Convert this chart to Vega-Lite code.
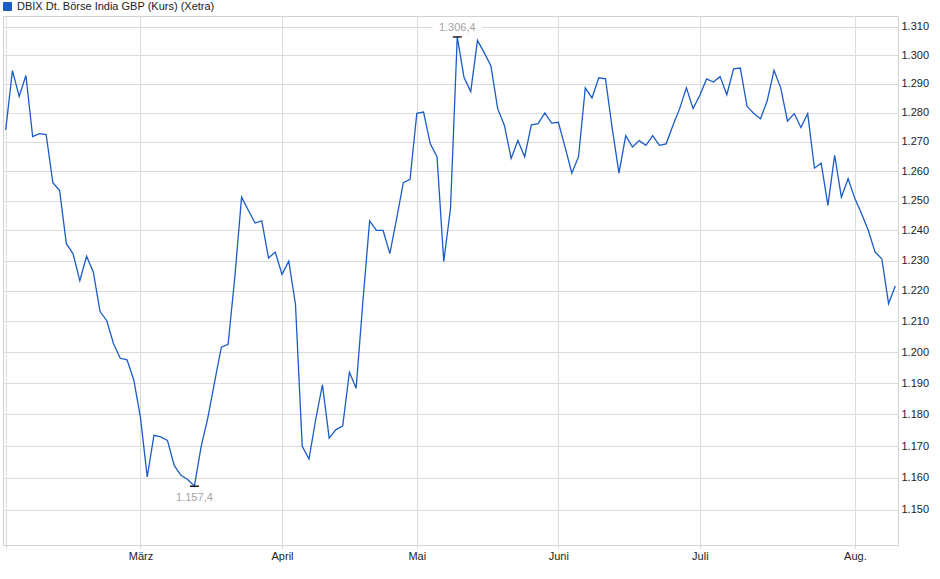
{
  "$schema": "https://vega.github.io/schema/vega-lite/v6.json",
  "autosize": {"type": "none"},
  "padding": {"left": 3, "top": 16, "right": 42, "bottom": 34},
  "width": 895,
  "height": 529,
  "background": "white",
  "config": {
    "font": "Liberation Sans",
    "view": {"stroke": "#d2d2d2", "strokeWidth": 1},
    "locale": {
      "number": {"decimal": ",", "thousands": ".", "grouping": [3], "currency": ["", " €"]}
    }
  },
  "data": {
    "values": [
      {"d": "2025-02-03", "v": 1274.1}, {"d": "2025-02-04", "v": 1294.6}, {"d": "2025-02-05", "v": 1285.6},
      {"d": "2025-02-06", "v": 1292.9}, {"d": "2025-02-07", "v": 1271.8}, {"d": "2025-02-10", "v": 1272.8},
      {"d": "2025-02-11", "v": 1272.5}, {"d": "2025-02-12", "v": 1256.1}, {"d": "2025-02-13", "v": 1253.4},
      {"d": "2025-02-14", "v": 1235.6}, {"d": "2025-02-17", "v": 1232.2}, {"d": "2025-02-18", "v": 1223.3},
      {"d": "2025-02-19", "v": 1231.4}, {"d": "2025-02-20", "v": 1226.2}, {"d": "2025-02-21", "v": 1213.2},
      {"d": "2025-02-24", "v": 1210.2}, {"d": "2025-02-25", "v": 1202.7}, {"d": "2025-02-26", "v": 1198.0},
      {"d": "2025-02-27", "v": 1197.5}, {"d": "2025-02-28", "v": 1191.1}, {"d": "2025-03-03", "v": 1179.0},
      {"d": "2025-03-04", "v": 1160.3}, {"d": "2025-03-05", "v": 1173.4}, {"d": "2025-03-06", "v": 1172.9},
      {"d": "2025-03-07", "v": 1171.8}, {"d": "2025-03-10", "v": 1163.9}, {"d": "2025-03-11", "v": 1160.8},
      {"d": "2025-03-12", "v": 1159.5}, {"d": "2025-03-13", "v": 1157.4}, {"d": "2025-03-14", "v": 1169.8},
      {"d": "2025-03-17", "v": 1179.0}, {"d": "2025-03-18", "v": 1190.4}, {"d": "2025-03-19", "v": 1201.6},
      {"d": "2025-03-20", "v": 1202.5}, {"d": "2025-03-21", "v": 1224.6}, {"d": "2025-03-24", "v": 1251.2},
      {"d": "2025-03-25", "v": 1246.8}, {"d": "2025-03-26", "v": 1242.5}, {"d": "2025-03-27", "v": 1243.2},
      {"d": "2025-03-28", "v": 1230.8}, {"d": "2025-03-31", "v": 1232.8}, {"d": "2025-04-01", "v": 1225.4},
      {"d": "2025-04-02", "v": 1229.8}, {"d": "2025-04-03", "v": 1215.5}, {"d": "2025-04-04", "v": 1169.9},
      {"d": "2025-04-07", "v": 1165.9}, {"d": "2025-04-08", "v": 1178.4}, {"d": "2025-04-09", "v": 1189.5},
      {"d": "2025-04-10", "v": 1172.5}, {"d": "2025-04-11", "v": 1175.2}, {"d": "2025-04-14", "v": 1176.3},
      {"d": "2025-04-15", "v": 1193.5}, {"d": "2025-04-16", "v": 1188.4}, {"d": "2025-04-17", "v": 1216.5},
      {"d": "2025-04-22", "v": 1243.2}, {"d": "2025-04-23", "v": 1240.0}, {"d": "2025-04-24", "v": 1240.0},
      {"d": "2025-04-25", "v": 1232.3}, {"d": "2025-04-28", "v": 1243.9}, {"d": "2025-04-29", "v": 1256.1},
      {"d": "2025-04-30", "v": 1257.2}, {"d": "2025-05-02", "v": 1279.8}, {"d": "2025-05-05", "v": 1280.2},
      {"d": "2025-05-06", "v": 1269.3}, {"d": "2025-05-07", "v": 1264.9}, {"d": "2025-05-08", "v": 1229.7},
      {"d": "2025-05-09", "v": 1247.3}, {"d": "2025-05-12", "v": 1306.4}, {"d": "2025-05-13", "v": 1292.3},
      {"d": "2025-05-14", "v": 1287.3}, {"d": "2025-05-15", "v": 1305.2}, {"d": "2025-05-16", "v": 1300.9},
      {"d": "2025-05-19", "v": 1296.2}, {"d": "2025-05-20", "v": 1281.4}, {"d": "2025-05-21", "v": 1275.6},
      {"d": "2025-05-22", "v": 1264.3}, {"d": "2025-05-23", "v": 1270.4}, {"d": "2025-05-26", "v": 1264.9},
      {"d": "2025-05-27", "v": 1275.8}, {"d": "2025-05-28", "v": 1276.2}, {"d": "2025-05-29", "v": 1279.9},
      {"d": "2025-05-30", "v": 1276.4}, {"d": "2025-06-02", "v": 1276.7}, {"d": "2025-06-03", "v": 1268.2},
      {"d": "2025-06-04", "v": 1259.3}, {"d": "2025-06-05", "v": 1264.9}, {"d": "2025-06-06", "v": 1288.6},
      {"d": "2025-06-09", "v": 1285.1}, {"d": "2025-06-10", "v": 1292.1}, {"d": "2025-06-11", "v": 1291.7},
      {"d": "2025-06-12", "v": 1274.5}, {"d": "2025-06-13", "v": 1259.3}, {"d": "2025-06-16", "v": 1272.1},
      {"d": "2025-06-17", "v": 1268.2}, {"d": "2025-06-18", "v": 1270.4}, {"d": "2025-06-19", "v": 1268.8},
      {"d": "2025-06-20", "v": 1272.1}, {"d": "2025-06-23", "v": 1268.8}, {"d": "2025-06-24", "v": 1269.3},
      {"d": "2025-06-25", "v": 1275.6}, {"d": "2025-06-26", "v": 1281.4}, {"d": "2025-06-27", "v": 1288.6},
      {"d": "2025-06-30", "v": 1281.4}, {"d": "2025-07-01", "v": 1286.0}, {"d": "2025-07-02", "v": 1291.7},
      {"d": "2025-07-03", "v": 1290.6}, {"d": "2025-07-04", "v": 1292.5}, {"d": "2025-07-07", "v": 1286.2},
      {"d": "2025-07-08", "v": 1295.2}, {"d": "2025-07-09", "v": 1295.5}, {"d": "2025-07-10", "v": 1282.2},
      {"d": "2025-07-11", "v": 1279.7}, {"d": "2025-07-14", "v": 1277.9}, {"d": "2025-07-15", "v": 1284.2},
      {"d": "2025-07-16", "v": 1294.7}, {"d": "2025-07-17", "v": 1288.6}, {"d": "2025-07-18", "v": 1277.1},
      {"d": "2025-07-21", "v": 1279.7}, {"d": "2025-07-22", "v": 1274.9}, {"d": "2025-07-23", "v": 1279.7},
      {"d": "2025-07-24", "v": 1261.0}, {"d": "2025-07-25", "v": 1262.7}, {"d": "2025-07-28", "v": 1248.4},
      {"d": "2025-07-29", "v": 1265.4}, {"d": "2025-07-30", "v": 1251.2}, {"d": "2025-07-31", "v": 1257.4},
      {"d": "2025-08-01", "v": 1250.7}, {"d": "2025-08-04", "v": 1245.6}, {"d": "2025-08-05", "v": 1240.0},
      {"d": "2025-08-06", "v": 1232.8}, {"d": "2025-08-07", "v": 1230.6}, {"d": "2025-08-08", "v": 1215.8},
      {"d": "2025-08-11", "v": 1221.6}
    ]
  },
  "encoding": {
    "x": {
      "field": "d",
      "type": "ordinal",
      "sort": null,
      "scale": {"type": "point", "padding": 0.4},
      "axis": {
        "title": null,
        "values": ["2025-02-03", "2025-03-03", "2025-04-01", "2025-05-02", "2025-06-02", "2025-07-01", "2025-08-01"],
        "labelExpr": "datum.value == '2025-03-03' ? 'März' : datum.value == '2025-04-01' ? 'April' : datum.value == '2025-05-02' ? 'Mai' : datum.value == '2025-06-02' ? 'Juni' : datum.value == '2025-07-01' ? 'Juli' : datum.value == '2025-08-01' ? 'Aug.' : ''",
        "labelAngle": 0,
        "labelFontSize": 11,
        "labelColor": "#222222",
        "labelPadding": 2,
        "grid": true,
        "gridColor": "#dcdcdc",
        "domain": false,
        "ticks": true,
        "tickSize": 3,
        "tickColor": "#d2d2d2"
      }
    },
    "y": {
      "field": "v",
      "type": "quantitative",
      "scale": {"type": "log", "domain": [1139.2, 1313.8], "nice": false, "zero": false},
      "axis": {
        "title": null,
        "orient": "right",
        "values": [1150, 1160, 1170, 1180, 1190, 1200, 1210, 1220, 1230, 1240, 1250, 1260, 1270, 1280, 1290, 1300, 1310],
        "format": ",.0f",
        "labelFontSize": 11,
        "labelColor": "#222222",
        "labelPadding": 3,
        "grid": true,
        "gridColor": "#dcdcdc",
        "domain": false,
        "ticks": false,
        "tickSize": 0
      }
    }
  },
  "layer": [
    {
      "mark": {"type": "line", "strokeWidth": 1.3, "interpolate": "linear"},
      "encoding": {
        "color": {
          "datum": "DBIX Dt. Börse India GBP (Kurs) (Xetra)",
          "type": "nominal",
          "scale": {"range": ["#1a5cc8"]},
          "legend": {
            "title": null,
            "orient": "none",
            "legendX": -1,
            "legendY": -15,
            "padding": 0,
            "symbolType": "square",
            "symbolSize": 64,
            "symbolStrokeColor": "#123f8f",
            "symbolStrokeWidth": 1,
            "labelFontSize": 11,
            "labelColor": "#222222",
            "labelOffset": 4,
            "labelLimit": 0,
            "encode": {"symbols": {"update": {"fill": {"value": "#1a5cc8"}, "stroke": {"value": "#123f8f"}}}}
          }
        }
      }
    },
    {
      "transform": [{"filter": "datum.d == '2025-05-12' || datum.d == '2025-03-13'"}],
      "mark": {"type": "tick", "color": "black", "size": 9, "thickness": 1.3, "opacity": 1}
    },
    {
      "transform": [{"filter": "datum.d == '2025-05-12'"}],
      "mark": {"type": "point", "shape": "M-1,-0.26H1V0.26H-1Z", "size": 2500, "filled": true, "color": "white", "opacity": 1, "yOffset": -9}
    },
    {
      "transform": [{"filter": "datum.d == '2025-05-12'"}],
      "mark": {"type": "text", "fontSize": 11, "color": "#a3a3a3", "dy": -9, "baseline": "middle", "align": "center"},
      "encoding": {"text": {"field": "v", "type": "quantitative", "format": ",.1f"}}
    },
    {
      "transform": [{"filter": "datum.d == '2025-03-13'"}],
      "mark": {"type": "text", "fontSize": 11, "color": "#a3a3a3", "dy": 12, "baseline": "middle", "align": "center"},
      "encoding": {"text": {"field": "v", "type": "quantitative", "format": ",.1f"}}
    }
  ]
}
